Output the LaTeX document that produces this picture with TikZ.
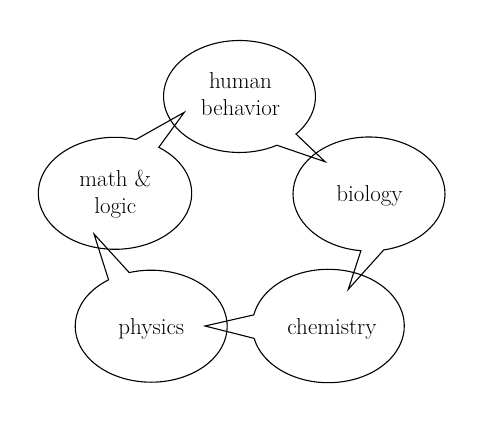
\documentclass[tikz,border=0pt]{standalone}
\begin{document}
\begin{tikzpicture}[x=1pt,y=1pt,
  bubble/.style={draw=black, line width=1.1pt, line join=miter},
  txt/.style={font=\fontsize{23}{27}\selectfont, align=center, inner sep=0pt}]
\useasboundingbox (0,0) rectangle (485,423);
% centres of the ellipses
\coordinate (cH) at (239.5,326.5);
\coordinate (cB) at (369,229);
\coordinate (cC) at (328.3,97);
\coordinate (cP) at (151.2,96.8);
\coordinate (cM) at (115,229.7);
% pointer tips
\coordinate (tH) at (325,261.3);
\coordinate (tB) at (348.3,133.7);
\coordinate (tC) at (205,97);
\coordinate (tP) at (94,189);
\coordinate (tM) at (184.3,310.7);
% callouts
\draw[bubble] (tH) -- ([shift={(-42:76pt and 56pt)}]cH)
  arc[start angle=-42, end angle=299.5, x radius=76pt, y radius=56pt] -- cycle;
\draw[bubble] (tB) -- ([shift={(-78.8:76pt and 57pt)}]cB)
  arc[start angle=-78.8, end angle=263.9, x radius=76pt, y radius=57pt] -- cycle;
\draw[bubble] (tC) -- ([shift={(192.6:76pt and 56.7pt)}]cC)
  arc[start angle=192.6, end angle=528.7, x radius=76pt, y radius=56.7pt] -- cycle;
\draw[bubble] (tP) -- ([shift={(124.1:76pt and 56pt)}]cP)
  arc[start angle=124.1, end angle=466.8, x radius=76pt, y radius=56pt] -- cycle;
\draw[bubble] (tM) -- ([shift={(74.1:76.7pt and 56pt)}]cM)
  arc[start angle=74.1, end angle=415.2, x radius=76.7pt, y radius=56pt] -- cycle;
% texts
\node[txt] (hb) at (240.5,329) {human\\behavior};
\node[txt] (bio) at (369.5,227.4) {biology};
\node[txt] (chem) at (332,94.4) {chemistry};
\node[txt] (phys) at (151.3,94.4) {physics};
\node[txt] (ml) at (115.3,228.4) {math \&\\logic};
\end{tikzpicture}
\end{document}
